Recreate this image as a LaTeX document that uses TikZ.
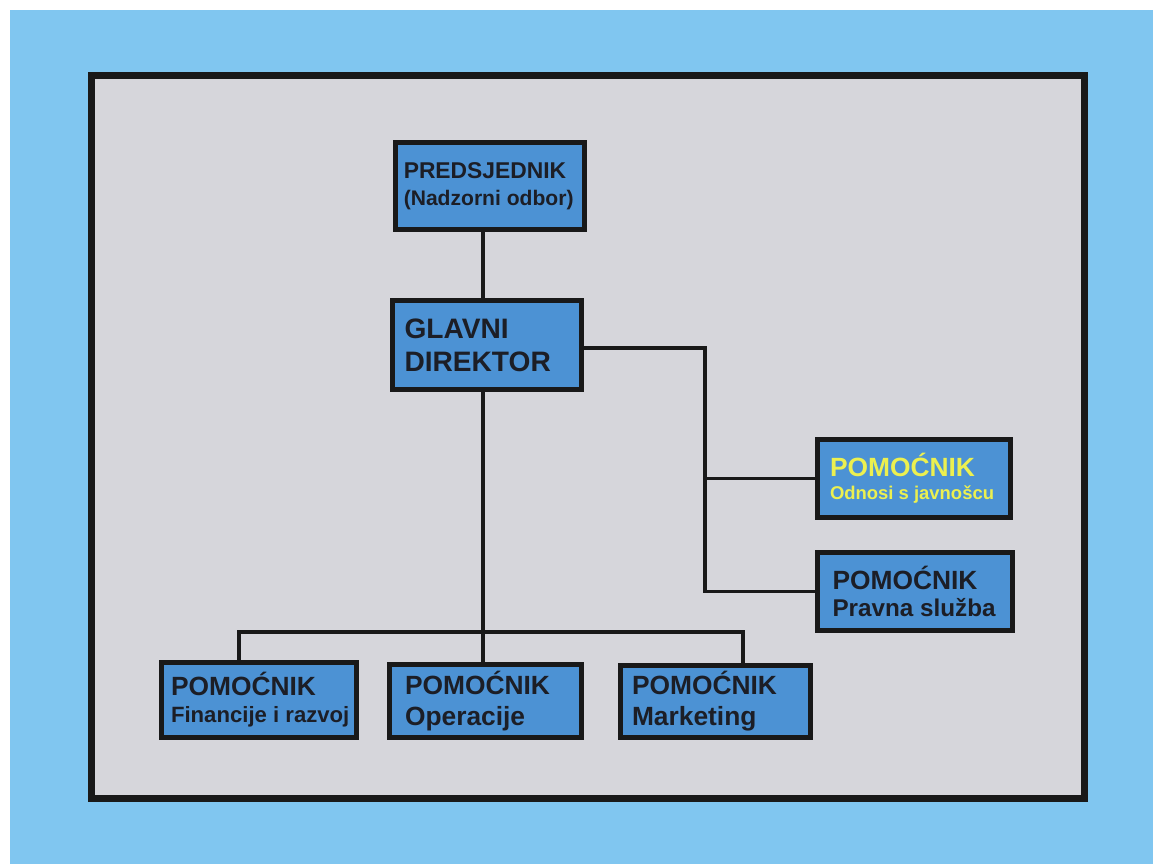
\documentclass[tikz,border=0pt]{standalone}
\usepackage{fontspec}
\setmainfont{Liberation Sans}
\usepackage{tikz}
\definecolor{skyblue}{RGB}{128,198,240}
\definecolor{panelgray}{RGB}{214,214,219}
\definecolor{boxblue}{RGB}{76,146,212}
\definecolor{inkdark}{RGB}{28,30,38}
\definecolor{pryellow}{RGB}{236,240,80}

\begin{document}
\begin{tikzpicture}[x=0.02cm, y=-0.02cm, box/.style={rectangle, draw=black!90, line width=2.85pt, fill=boxblue, text=inkdark, align=left, inner sep=0pt, minimum width=3.8cm, minimum height=#1}, link/.style={draw=black!90, line width=2.27pt}]

% Background
\useasboundingbox (0,0) rectangle (1153,864);
\fill[white] (0,0) rectangle (1153,864);
\fill[skyblue] (10,10) rectangle (1153,864);
\draw[line width=3.97pt, draw=black!90, fill=panelgray] (91.5,75.5) rectangle (1084.5,798.5);

% Boxes

\node [box=1.74cm, text width=3.45cm, font=\bfseries\fontsize{13}{15.3}\selectfont] (pres) at (490,186)
{\spaceskip=0pt PREDSJEDNIK\\\fontsize{12}{15.3}\selectfont\spaceskip=0pt\mbox{(Nadzorni odbor)}};

\node [box=1.78cm, text width=3.3cm, font=\bfseries\fontsize{16}{18.7}\selectfont] (dir) at (487,345)
{GLAVNI\\DIREKTOR};

\node [box=1.56cm, minimum width=3.86cm, text width=3.36cm, text=pryellow, font=\bfseries\fontsize{15}{13}\selectfont] (odnosi) at (914,478.5)
{POMOĆNIK\\\fontsize{10.5}{13}\selectfont\spaceskip=0pt\mbox{Odnosi s javnošcu}};

\node [box=1.56cm, minimum width=3.9cm, text width=3.3cm, font=\bfseries\fontsize{15}{15.3}\selectfont] (pravna) at (915,591.5)
{POMOĆNIK\\\fontsize{13.8}{15.3}\selectfont\spaceskip=0pt\mbox{Pravna služba}};

\node [box=1.5cm, minimum width=3.9cm, text width=3.52cm, font=\bfseries\fontsize{15}{15.3}\selectfont] (fin) at (259,700)
{POMOĆNIK\\\fontsize{12.6}{15.3}\selectfont\spaceskip=0pt\mbox{Financije i razvoj}};

\node [box=1.46cm, minimum width=3.84cm, text width=3.22cm, font=\bfseries\fontsize{15}{17.6}\selectfont] (oper) at (485.5,701)
{POMOĆNIK\\Operacije};

\node [box=1.44cm, text width=3.34cm, font=\bfseries\fontsize{15}{17.6}\selectfont] (mark) at (715.5,701.5)
{POMOĆNIK\\Marketing};

% Lines

\coordinate (spine) at (483,632);
\coordinate (finstem) at (239,632);
\coordinate (markstem) at (743,632);
\coordinate (rightbus) at (705,348);

\draw[link] (pres.south -| spine) -- (dir.north -| spine);
\draw[link] (dir.south -| spine) -- (oper.north -| spine);
\draw[link] (fin.north -| finstem) -- (finstem) -- (markstem) -- (mark.north -| markstem);
\draw[link] (dir.east |- rightbus) -- (rightbus) |- (pravna.west);
\draw[link] (rightbus |- odnosi.west) -- (odnosi.west);

\end{tikzpicture}
\end{document}
